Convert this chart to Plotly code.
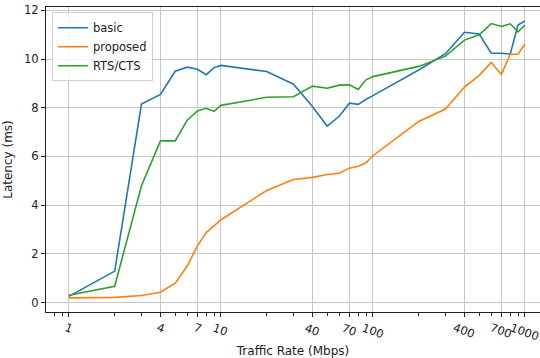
import math
import plotly.graph_objects as go

rates = [1, 2, 3, 4, 5, 6, 7, 8, 9, 10, 20, 30, 40, 50, 60, 70, 80, 90, 100,
         200, 300, 400, 500, 600, 700, 800, 900, 1000]
basic = [0.25, 1.29, 8.15, 8.55, 9.5, 9.67, 9.58, 9.36, 9.65, 9.74, 9.49, 8.97, 8.05, 7.25,
         7.65, 8.19, 8.14, 8.35, 8.5, 9.55, 10.22, 11.1, 11.03, 10.24, 10.24, 10.2, 11.4, 11.57]
proposed = [0.19, 0.21, 0.29, 0.42, 0.79, 1.5, 2.33, 2.87, 3.15, 3.4, 4.6, 5.05, 5.14, 5.26,
            5.31, 5.52, 5.6, 5.74, 6.03, 7.44, 7.95, 8.85, 9.33, 9.86, 9.37, 10.2, 10.2, 10.62]
rtscts = [0.3, 0.67, 4.8, 6.64, 6.64, 7.49, 7.87, 7.98, 7.85, 8.1, 8.43, 8.45, 8.89, 8.8,
          8.93, 8.94, 8.75, 9.15, 9.28, 9.7, 10.12, 10.78, 11.0, 11.46, 11.34, 11.45, 11.12, 11.4]

major_ticks = [1, 4, 7, 10, 40, 70, 100, 400, 700, 1000]
minor_ticks = [0.8, 0.9, 2, 3, 5, 6, 8, 9, 20, 30, 50, 60, 80, 90, 200, 300, 500, 600, 800, 900]
y_ticks = [0, 2, 4, 6, 8, 10, 12]

series = [("basic", basic, "#1f77b4"), ("proposed", proposed, "#ff7f0e"),
          ("RTS/CTS", rtscts, "#2ca02c")]

fig = go.Figure()
for name, vals, col in series:
    fig.add_trace(go.Scatter(x=rates, y=vals, mode="lines", name=name,
                             line=dict(color=col, width=1.6)))

font = "DejaVu Sans, sans-serif"

# rotated, centred x tick labels (matplotlib style)
for t in major_ticks:
    fig.add_annotation(x=math.log10(t), xref="x", y=0, yref="paper",
                       text=str(t), showarrow=False, textangle=20,
                       xanchor="center", yanchor="top", yshift=-6,
                       font=dict(family=font, size=11.5, color="#222"))

fig.update_layout(
    width=540, height=358,
    margin=dict(l=46, r=0, t=7, b=46),
    paper_bgcolor="white", plot_bgcolor="white",
    font=dict(family=font, size=11.5, color="#222"),
    showlegend=True,
    legend=dict(x=0.012, y=0.983, xanchor="left", yanchor="top",
                bgcolor="rgba(255,255,255,0.8)", bordercolor="#d0d0d0", borderwidth=1,
                font=dict(size=11.5, color="#222"), tracegroupgap=0, itemwidth=30),
    xaxis=dict(type="log", range=[-0.151, 3.099], automargin=False,
               tickmode="array", tickvals=major_ticks, showticklabels=False,
               ticks="outside", ticklen=4, tickcolor="#222",
               showgrid=True, gridcolor="#c8c8c8", gridwidth=1.2,
               showline=True, linecolor="#222", linewidth=1.2, mirror=True,
               zeroline=False,
               minor=dict(tickmode="array", tickvals=minor_ticks, ticks="outside",
                          ticklen=2.5, tickcolor="#222", showgrid=False),
               title=dict(text="Traffic Rate (Mbps)", font=dict(size=12), standoff=30)),
    yaxis=dict(range=[-0.39, 12.14], automargin=False,
               tickmode="array", tickvals=y_ticks,
               ticks="outside", ticklen=4, tickcolor="#222",
               showgrid=True, gridcolor="#c8c8c8", gridwidth=1.2,
               showline=True, linecolor="#222", linewidth=1.2, mirror=False,
               zeroline=False,
               title=dict(text="Latency (ms)", font=dict(size=12), standoff=8)),
)

fig.write_html("out.html")
